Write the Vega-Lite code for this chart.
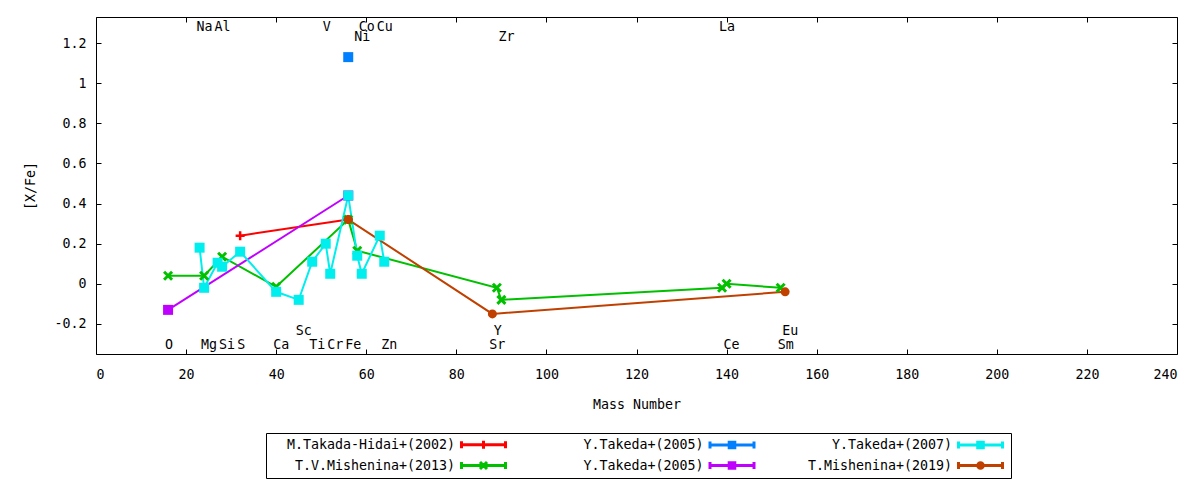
{
  "$schema": "https://vega.github.io/schema/vega-lite/v6.json",
  "description": "[X/Fe] against mass number for six abundance studies",
  "width": 1081,
  "height": 337,
  "autosize": "none",
  "padding": {"left": 96, "top": 17, "right": 23, "bottom": 126},
  "background": "white",
  "config": {
    "font": "DejaVu Sans Mono",
    "view": {"stroke": "black", "strokeWidth": 1},
    "axis": {
      "grid": false,
      "domain": false,
      "tickColor": "black",
      "tickSize": -5,
      "tickWidth": 1,
      "labelColor": "black",
      "labelFont": "DejaVu Sans Mono",
      "labelFontSize": 13.3,
      "titleColor": "black",
      "titleFont": "DejaVu Sans Mono",
      "titleFontSize": 13.3,
      "titleFontWeight": "normal"
    },
    "range": {"category": ["#ff0000", "#0080ff", "#00eeee", "#00c000", "#c000ff", "#c04000"]}
  },
  "datasets": {
    "points": [
      {"series": "Takada-Hidai2002", "el": "S", "mass": 32, "xfe": 0.24},
      {"series": "Takada-Hidai2002", "el": "Fe", "mass": 56, "xfe": 0.32},
      {"series": "Mishenina2013", "el": "O", "mass": 16, "xfe": 0.04},
      {"series": "Mishenina2013", "el": "Mg", "mass": 24, "xfe": 0.04},
      {"series": "Mishenina2013", "el": "Si", "mass": 28, "xfe": 0.135},
      {"series": "Mishenina2013", "el": "Ca", "mass": 40, "xfe": -0.015},
      {"series": "Mishenina2013", "el": "Fe", "mass": 56, "xfe": 0.32},
      {"series": "Mishenina2013", "el": "Ni", "mass": 58, "xfe": 0.165},
      {"series": "Mishenina2013", "el": "Y", "mass": 89, "xfe": -0.02},
      {"series": "Mishenina2013", "el": "Zr", "mass": 90, "xfe": -0.08},
      {"series": "Mishenina2013", "el": "La", "mass": 139, "xfe": -0.02},
      {"series": "Mishenina2013", "el": "Ce", "mass": 140, "xfe": 0.0},
      {"series": "Mishenina2013", "el": "Sm", "mass": 152, "xfe": -0.02},
      {"series": "Takeda2005a", "el": "Fe", "mass": 56, "xfe": 1.13},
      {"series": "Takeda2005b", "el": "O", "mass": 16, "xfe": -0.13},
      {"series": "Takeda2005b", "el": "Fe", "mass": 56, "xfe": 0.44},
      {"series": "Takeda2007", "el": "Na", "mass": 23, "xfe": 0.18},
      {"series": "Takeda2007", "el": "Mg", "mass": 24, "xfe": -0.02},
      {"series": "Takeda2007", "el": "Al", "mass": 27, "xfe": 0.105},
      {"series": "Takeda2007", "el": "Si", "mass": 28, "xfe": 0.085},
      {"series": "Takeda2007", "el": "S", "mass": 32, "xfe": 0.16},
      {"series": "Takeda2007", "el": "Ca", "mass": 40, "xfe": -0.04},
      {"series": "Takeda2007", "el": "Sc", "mass": 45, "xfe": -0.08},
      {"series": "Takeda2007", "el": "Ti", "mass": 48, "xfe": 0.11},
      {"series": "Takeda2007", "el": "V", "mass": 51, "xfe": 0.2},
      {"series": "Takeda2007", "el": "Cr", "mass": 52, "xfe": 0.05},
      {"series": "Takeda2007", "el": "Fe", "mass": 56, "xfe": 0.44},
      {"series": "Takeda2007", "el": "Ni", "mass": 58, "xfe": 0.14},
      {"series": "Takeda2007", "el": "Co", "mass": 59, "xfe": 0.05},
      {"series": "Takeda2007", "el": "Cu", "mass": 63, "xfe": 0.24},
      {"series": "Takeda2007", "el": "Zn", "mass": 64, "xfe": 0.11},
      {"series": "Mishenina2019", "el": "Fe", "mass": 56, "xfe": 0.32},
      {"series": "Mishenina2019", "el": "Sr", "mass": 88, "xfe": -0.15},
      {"series": "Mishenina2019", "el": "Eu", "mass": 153, "xfe": -0.04}
    ],
    "labels": [
      {"el": "Na", "mass": 23, "y": 1.28},
      {"el": "Al", "mass": 27, "y": 1.28},
      {"el": "V", "mass": 51, "y": 1.28},
      {"el": "Co", "mass": 59, "y": 1.28},
      {"el": "Cu", "mass": 63, "y": 1.28},
      {"el": "La", "mass": 139, "y": 1.28},
      {"el": "Ni", "mass": 58, "y": 1.23},
      {"el": "Zr", "mass": 90, "y": 1.23},
      {"el": "O", "mass": 16, "y": -0.304},
      {"el": "Mg", "mass": 24, "y": -0.304},
      {"el": "Si", "mass": 28, "y": -0.304},
      {"el": "S", "mass": 32, "y": -0.304},
      {"el": "Ca", "mass": 40, "y": -0.304},
      {"el": "Ti", "mass": 48, "y": -0.304},
      {"el": "Cr", "mass": 52, "y": -0.304},
      {"el": "Fe", "mass": 56, "y": -0.304},
      {"el": "Zn", "mass": 64, "y": -0.304},
      {"el": "Sr", "mass": 88, "y": -0.304},
      {"el": "Ce", "mass": 140, "y": -0.304},
      {"el": "Sm", "mass": 152, "y": -0.304},
      {"el": "Sc", "mass": 45, "y": -0.233},
      {"el": "Y", "mass": 89, "y": -0.233},
      {"el": "Eu", "mass": 153, "y": -0.233}
    ]
  },
  "layer": [
    {
      "data": {"name": "points"},
      "mark": {"type": "line", "strokeWidth": 2},
      "encoding": {
        "x": {
          "field": "mass",
          "type": "quantitative",
          "scale": {"domain": [0, 240], "nice": false},
          "axis": {
            "orient": "bottom",
            "values": [0, 20, 40, 60, 80, 100, 120, 140, 160, 180, 200, 220, 240],
            "labelPadding": 18,
            "title": "Mass Number",
            "titlePadding": 17
          }
        },
        "y": {
          "field": "xfe",
          "type": "quantitative",
          "scale": {"domain": [-0.35, 1.33], "nice": false, "zero": false},
          "axis": {
            "orient": "left",
            "values": [-0.2, 0, 0.2, 0.4, 0.6, 0.8, 1, 1.2],
            "labelExpr": "'' + datum.value",
            "labelPadding": 15,
            "title": "[X/Fe]",
            "titlePadding": 16
          }
        },
        "color": {
          "field": "series",
          "type": "nominal",
          "scale": {"domain": ["Takada-Hidai2002", "Takeda2005a", "Takeda2007", "Mishenina2013", "Takeda2005b", "Mishenina2019"]},
          "legend": {
            "orient": "none", "legendX": 170, "legendY": 416, "direction": "horizontal", "columns": 3, "title": null,
            "labelFont": "DejaVu Sans Mono", "labelFontSize": 13.3, "labelColor": "black", "labelLimit": 400, "labelAlign": "left",
            "labelOffset": -222, "symbolSize": 256, "symbolOffset": 206, "columnPadding": 4.5, "rowPadding": 0, "padding": 2,
            "strokeColor": "black", "fillColor": "white",
            "labelExpr": "datum.value === 'Takada-Hidai2002' ? '\u200b\u00a0\u00a0M.Takada-Hidai+(2002)' : datum.value === 'Mishenina2013' ? '\u200b\u00a0\u00a0\u00a0T.V.Mishenina+(2013)' : datum.value === 'Takeda2007' ? '\u200b\u00a0\u00a0\u00a0\u00a0\u00a0\u00a0\u00a0\u00a0Y.Takeda+(2007)' : datum.value === 'Mishenina2019' ? '\u200b\u00a0\u00a0\u00a0\u00a0\u00a0T.Mishenina+(2019)' : '\u200b\u00a0\u00a0\u00a0\u00a0\u00a0\u00a0\u00a0\u00a0Y.Takeda+(2005)'",
            "encode": {"symbols": {"update": {
              "shape": {"signal": "datum.value === 'Takada-Hidai2002' ? 'M-2.75,0H2.75M-2.75,-0.44V0.44M2.75,-0.44V0.44M-0.5,0H0.5M0,-0.5V0.5' : datum.value === 'Mishenina2013' ? 'M-2.75,0H2.75M-2.75,-0.44V0.44M2.75,-0.44V0.44M-0.44,-0.44L0.44,0.44M-0.44,0.44L0.44,-0.44' : datum.value === 'Mishenina2019' ? 'M-2.75,0H2.75M-2.75,-0.44V0.44M2.75,-0.44V0.44M-0.35,0A0.35,0.35,0,1,1,0.35,0A0.35,0.35,0,1,1,-0.35,0Z' : 'M-2.75,0H2.75M-2.75,-0.44V0.44M2.75,-0.44V0.44M-0.35,-0.35H0.35V0.35H-0.35Z'"},
              "fill": {"scale": "color", "field": "value"}, "stroke": {"scale": "color", "field": "value"},
              "strokeWidth": {"value": 3}, "opacity": {"value": 1}, "fillOpacity": {"value": 1}, "strokeOpacity": {"value": 1}
            }}}
          }
        }
      }
    },
    {
      "data": {"name": "points"},
      "transform": [{"filter": {"field": "series", "equal": "Takada-Hidai2002"}}],
      "mark": {"type": "point", "filled": false, "opacity": 1, "size": 100, "strokeWidth": 2.5, "shape": "M-0.9,0H0.9M0,-0.9V0.9"},
      "encoding": {
        "x": {
          "field": "mass",
          "type": "quantitative",
          "axis": {"orient": "top", "labels": false, "title": null, "values": [0, 20, 40, 60, 80, 100, 120, 140, 160, 180, 200, 220, 240]}
        },
        "y": {
          "field": "xfe",
          "type": "quantitative",
          "axis": {"orient": "right", "labels": false, "title": null, "values": [-0.2, 0, 0.2, 0.4, 0.6, 0.8, 1, 1.2]}
        },
        "color": {
          "field": "series",
          "type": "nominal",
          "legend": {
            "orient": "none", "legendX": 170, "legendY": 416, "direction": "horizontal", "columns": 3, "title": null,
            "labelFont": "DejaVu Sans Mono", "labelFontSize": 13.3, "labelColor": "black", "labelLimit": 400, "labelAlign": "left",
            "labelOffset": -222, "symbolSize": 256, "symbolOffset": 206, "columnPadding": 4.5, "rowPadding": 0, "padding": 2,
            "strokeColor": "black", "fillColor": "white",
            "labelExpr": "datum.value === 'Takada-Hidai2002' ? '\u200b\u00a0\u00a0M.Takada-Hidai+(2002)' : datum.value === 'Mishenina2013' ? '\u200b\u00a0\u00a0\u00a0T.V.Mishenina+(2013)' : datum.value === 'Takeda2007' ? '\u200b\u00a0\u00a0\u00a0\u00a0\u00a0\u00a0\u00a0\u00a0Y.Takeda+(2007)' : datum.value === 'Mishenina2019' ? '\u200b\u00a0\u00a0\u00a0\u00a0\u00a0T.Mishenina+(2019)' : '\u200b\u00a0\u00a0\u00a0\u00a0\u00a0\u00a0\u00a0\u00a0Y.Takeda+(2005)'",
            "encode": {"symbols": {"update": {
              "shape": {"signal": "datum.value === 'Takada-Hidai2002' ? 'M-2.75,0H2.75M-2.75,-0.44V0.44M2.75,-0.44V0.44M-0.5,0H0.5M0,-0.5V0.5' : datum.value === 'Mishenina2013' ? 'M-2.75,0H2.75M-2.75,-0.44V0.44M2.75,-0.44V0.44M-0.44,-0.44L0.44,0.44M-0.44,0.44L0.44,-0.44' : datum.value === 'Mishenina2019' ? 'M-2.75,0H2.75M-2.75,-0.44V0.44M2.75,-0.44V0.44M-0.35,0A0.35,0.35,0,1,1,0.35,0A0.35,0.35,0,1,1,-0.35,0Z' : 'M-2.75,0H2.75M-2.75,-0.44V0.44M2.75,-0.44V0.44M-0.35,-0.35H0.35V0.35H-0.35Z'"},
              "fill": {"scale": "color", "field": "value"}, "stroke": {"scale": "color", "field": "value"},
              "strokeWidth": {"value": 3}, "opacity": {"value": 1}, "fillOpacity": {"value": 1}, "strokeOpacity": {"value": 1}
            }}}
          }
        }
      }
    },
    {
      "data": {"name": "points"},
      "transform": [{"filter": {"field": "series", "equal": "Mishenina2013"}}],
      "mark": {"type": "point", "filled": false, "opacity": 1, "size": 100, "strokeWidth": 3, "shape": "M-0.8,-0.8L0.8,0.8M-0.8,0.8L0.8,-0.8"},
      "encoding": {
        "x": {"field": "mass", "type": "quantitative", "axis": null},
        "y": {"field": "xfe", "type": "quantitative", "axis": null},
        "color": {
          "field": "series",
          "type": "nominal",
          "legend": {
            "orient": "none", "legendX": 170, "legendY": 416, "direction": "horizontal", "columns": 3, "title": null,
            "labelFont": "DejaVu Sans Mono", "labelFontSize": 13.3, "labelColor": "black", "labelLimit": 400, "labelAlign": "left",
            "labelOffset": -222, "symbolSize": 256, "symbolOffset": 206, "columnPadding": 4.5, "rowPadding": 0, "padding": 2,
            "strokeColor": "black", "fillColor": "white",
            "labelExpr": "datum.value === 'Takada-Hidai2002' ? '\u200b\u00a0\u00a0M.Takada-Hidai+(2002)' : datum.value === 'Mishenina2013' ? '\u200b\u00a0\u00a0\u00a0T.V.Mishenina+(2013)' : datum.value === 'Takeda2007' ? '\u200b\u00a0\u00a0\u00a0\u00a0\u00a0\u00a0\u00a0\u00a0Y.Takeda+(2007)' : datum.value === 'Mishenina2019' ? '\u200b\u00a0\u00a0\u00a0\u00a0\u00a0T.Mishenina+(2019)' : '\u200b\u00a0\u00a0\u00a0\u00a0\u00a0\u00a0\u00a0\u00a0Y.Takeda+(2005)'",
            "encode": {"symbols": {"update": {
              "shape": {"signal": "datum.value === 'Takada-Hidai2002' ? 'M-2.75,0H2.75M-2.75,-0.44V0.44M2.75,-0.44V0.44M-0.5,0H0.5M0,-0.5V0.5' : datum.value === 'Mishenina2013' ? 'M-2.75,0H2.75M-2.75,-0.44V0.44M2.75,-0.44V0.44M-0.44,-0.44L0.44,0.44M-0.44,0.44L0.44,-0.44' : datum.value === 'Mishenina2019' ? 'M-2.75,0H2.75M-2.75,-0.44V0.44M2.75,-0.44V0.44M-0.35,0A0.35,0.35,0,1,1,0.35,0A0.35,0.35,0,1,1,-0.35,0Z' : 'M-2.75,0H2.75M-2.75,-0.44V0.44M2.75,-0.44V0.44M-0.35,-0.35H0.35V0.35H-0.35Z'"},
              "fill": {"scale": "color", "field": "value"}, "stroke": {"scale": "color", "field": "value"},
              "strokeWidth": {"value": 3}, "opacity": {"value": 1}, "fillOpacity": {"value": 1}, "strokeOpacity": {"value": 1}
            }}}
          }
        }
      }
    },
    {
      "data": {"name": "points"},
      "transform": [{"filter": {"field": "series", "oneOf": ["Takeda2005a", "Takeda2005b", "Takeda2007"]}}],
      "mark": {"type": "point", "filled": true, "opacity": 1, "size": 100, "strokeWidth": 0, "shape": "square"},
      "encoding": {
        "x": {"field": "mass", "type": "quantitative", "axis": null},
        "y": {"field": "xfe", "type": "quantitative", "axis": null},
        "color": {
          "field": "series",
          "type": "nominal",
          "legend": {
            "orient": "none", "legendX": 170, "legendY": 416, "direction": "horizontal", "columns": 3, "title": null,
            "labelFont": "DejaVu Sans Mono", "labelFontSize": 13.3, "labelColor": "black", "labelLimit": 400, "labelAlign": "left",
            "labelOffset": -222, "symbolSize": 256, "symbolOffset": 206, "columnPadding": 4.5, "rowPadding": 0, "padding": 2,
            "strokeColor": "black", "fillColor": "white",
            "labelExpr": "datum.value === 'Takada-Hidai2002' ? '\u200b\u00a0\u00a0M.Takada-Hidai+(2002)' : datum.value === 'Mishenina2013' ? '\u200b\u00a0\u00a0\u00a0T.V.Mishenina+(2013)' : datum.value === 'Takeda2007' ? '\u200b\u00a0\u00a0\u00a0\u00a0\u00a0\u00a0\u00a0\u00a0Y.Takeda+(2007)' : datum.value === 'Mishenina2019' ? '\u200b\u00a0\u00a0\u00a0\u00a0\u00a0T.Mishenina+(2019)' : '\u200b\u00a0\u00a0\u00a0\u00a0\u00a0\u00a0\u00a0\u00a0Y.Takeda+(2005)'",
            "encode": {"symbols": {"update": {
              "shape": {"signal": "datum.value === 'Takada-Hidai2002' ? 'M-2.75,0H2.75M-2.75,-0.44V0.44M2.75,-0.44V0.44M-0.5,0H0.5M0,-0.5V0.5' : datum.value === 'Mishenina2013' ? 'M-2.75,0H2.75M-2.75,-0.44V0.44M2.75,-0.44V0.44M-0.44,-0.44L0.44,0.44M-0.44,0.44L0.44,-0.44' : datum.value === 'Mishenina2019' ? 'M-2.75,0H2.75M-2.75,-0.44V0.44M2.75,-0.44V0.44M-0.35,0A0.35,0.35,0,1,1,0.35,0A0.35,0.35,0,1,1,-0.35,0Z' : 'M-2.75,0H2.75M-2.75,-0.44V0.44M2.75,-0.44V0.44M-0.35,-0.35H0.35V0.35H-0.35Z'"},
              "fill": {"scale": "color", "field": "value"}, "stroke": {"scale": "color", "field": "value"},
              "strokeWidth": {"value": 3}, "opacity": {"value": 1}, "fillOpacity": {"value": 1}, "strokeOpacity": {"value": 1}
            }}}
          }
        }
      }
    },
    {
      "data": {"name": "points"},
      "transform": [{"filter": {"field": "series", "equal": "Mishenina2019"}}],
      "mark": {"type": "point", "filled": true, "opacity": 1, "size": 81, "strokeWidth": 0, "shape": "circle"},
      "encoding": {
        "x": {"field": "mass", "type": "quantitative", "axis": null},
        "y": {"field": "xfe", "type": "quantitative", "axis": null},
        "color": {
          "field": "series",
          "type": "nominal",
          "legend": {
            "orient": "none", "legendX": 170, "legendY": 416, "direction": "horizontal", "columns": 3, "title": null,
            "labelFont": "DejaVu Sans Mono", "labelFontSize": 13.3, "labelColor": "black", "labelLimit": 400, "labelAlign": "left",
            "labelOffset": -222, "symbolSize": 256, "symbolOffset": 206, "columnPadding": 4.5, "rowPadding": 0, "padding": 2,
            "strokeColor": "black", "fillColor": "white",
            "labelExpr": "datum.value === 'Takada-Hidai2002' ? '\u200b\u00a0\u00a0M.Takada-Hidai+(2002)' : datum.value === 'Mishenina2013' ? '\u200b\u00a0\u00a0\u00a0T.V.Mishenina+(2013)' : datum.value === 'Takeda2007' ? '\u200b\u00a0\u00a0\u00a0\u00a0\u00a0\u00a0\u00a0\u00a0Y.Takeda+(2007)' : datum.value === 'Mishenina2019' ? '\u200b\u00a0\u00a0\u00a0\u00a0\u00a0T.Mishenina+(2019)' : '\u200b\u00a0\u00a0\u00a0\u00a0\u00a0\u00a0\u00a0\u00a0Y.Takeda+(2005)'",
            "encode": {"symbols": {"update": {
              "shape": {"signal": "datum.value === 'Takada-Hidai2002' ? 'M-2.75,0H2.75M-2.75,-0.44V0.44M2.75,-0.44V0.44M-0.5,0H0.5M0,-0.5V0.5' : datum.value === 'Mishenina2013' ? 'M-2.75,0H2.75M-2.75,-0.44V0.44M2.75,-0.44V0.44M-0.44,-0.44L0.44,0.44M-0.44,0.44L0.44,-0.44' : datum.value === 'Mishenina2019' ? 'M-2.75,0H2.75M-2.75,-0.44V0.44M2.75,-0.44V0.44M-0.35,0A0.35,0.35,0,1,1,0.35,0A0.35,0.35,0,1,1,-0.35,0Z' : 'M-2.75,0H2.75M-2.75,-0.44V0.44M2.75,-0.44V0.44M-0.35,-0.35H0.35V0.35H-0.35Z'"},
              "fill": {"scale": "color", "field": "value"}, "stroke": {"scale": "color", "field": "value"},
              "strokeWidth": {"value": 3}, "opacity": {"value": 1}, "fillOpacity": {"value": 1}, "strokeOpacity": {"value": 1}
            }}}
          }
        }
      }
    },
    {
      "data": {"name": "labels"},
      "mark": {"type": "text", "align": "left", "baseline": "middle", "dx": -3, "fontSize": 13.3, "color": "black", "font": "DejaVu Sans Mono"},
      "encoding": {
        "x": {"field": "mass", "type": "quantitative", "axis": null},
        "y": {"field": "y", "type": "quantitative", "axis": null},
        "text": {"field": "el"}
      }
    }
  ],
  "resolve": {"axis": {"x": "independent", "y": "independent"}}
}
